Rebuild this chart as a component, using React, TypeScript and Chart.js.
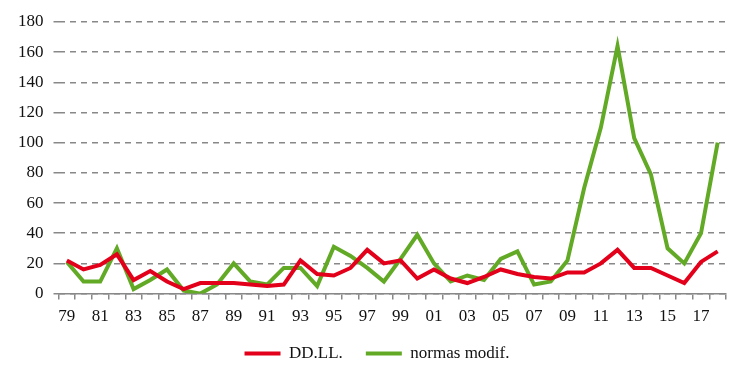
import React, { useEffect, useRef } from "react";
import { Chart, registerables } from "chart.js";

Chart.register(...registerables);

const years = [
  "79","80","81","82","83","84","85","86","87","88",
  "89","90","91","92","93","94","95","96","97","98",
  "99","00","01","02","03","04","05","06","07","08",
  "09","10","11","12","13","14","15","16","17","18",
];

const ddll = [
  22, 16, 19, 26, 9, 15, 8, 3, 7, 7,
  7, 6, 5, 6, 22, 13, 12, 17, 29, 20,
  22, 10, 16, 10, 7, 11, 16, 13, 11, 10,
  14, 14, 20, 29, 17, 17, 12, 7, 21, 28,
];

const normas = [
  21, 8, 8, 30, 3, 9, 16, 2, 0, 6,
  20, 8, 6, 17, 17, 5, 31, 25, 17, 8,
  23, 39, 20, 8, 12, 9, 23, 28, 6, 8,
  22, 70, 110, 164, 103, 79, 30, 20, 40, 100,
];

const yTicks = [0, 20, 40, 60, 80, 100, 120, 140, 160, 180];

const RED = "rgb(226,0,26)";
const GREEN = "rgb(98,170,38)";
const FONT = "'Liberation Serif', 'Times New Roman', serif";

export default function App() {
  const ref = useRef<HTMLCanvasElement | null>(null);

  useEffect(() => {
    document.body.style.margin = "0";
    const canvas = ref.current;
    if (!canvas) return;
    const chart = new Chart(canvas, {
      type: "line",
      data: {
        labels: years,
        datasets: [
          {
            label: "DD.LL.",
            data: ddll,
            borderColor: RED,
            backgroundColor: RED,
            borderWidth: 4,
            pointRadius: 0,
            tension: 0,
          },
          {
            label: "normas modif.",
            data: normas,
            borderColor: GREEN,
            backgroundColor: GREEN,
            borderWidth: 4,
            pointRadius: 0,
            tension: 0,
          },
        ],
      },
      options: {
        animation: false,
        responsive: false,
        layout: { padding: { left: 8, right: 18, top: 22, bottom: -4 } },
        plugins: {
          legend: {
            position: "bottom",
            labels: {
              boxWidth: 36,
              boxHeight: 4,
              padding: 23,
              color: "#111",
              font: { family: FONT, size: 17 },
              generateLabels: (c: any) =>
                c.data.datasets.map((ds: any, i: number) => ({
                  text: ds.label,
                  fillStyle: ds.borderColor,
                  strokeStyle: ds.borderColor,
                  lineWidth: 0,
                  hidden: false,
                  datasetIndex: i,
                  fontColor: "#111",
                })),
            },
          },
          tooltip: { enabled: false },
        },
        scales: {
          x: {
            offset: true,
            grid: {
              offset: true,
              drawOnChartArea: false,
              drawTicks: true,
              tickLength: 6,
              color: "#888",
              lineWidth: 1.5,
            },
            border: { display: true, color: "#888", width: 1.5 },
            ticks: {
              autoSkip: false,
              maxRotation: 0,
              color: "#111",
              font: { family: FONT, size: 17 },
              padding: 7,
              callback: (_v: any, i: number) => (i % 2 === 0 ? years[i] : ""),
            },
          },
          y: {
            min: 0,
            max: 180,
            afterBuildTicks: (axis: any) => {
              axis.ticks = yTicks.map((v) => ({ value: v }));
            },
            grid: {
              color: "#888",
              lineWidth: 1.5,
              drawTicks: true,
              tickLength: 5,
              tickBorderDash: [6, 5],
            },
            border: { display: false, dash: [6, 5] },
            ticks: {
              color: "#111",
              font: { family: FONT, size: 17 },
              padding: 10,
            },
          },
        },
      },
      plugins: [
        {
          id: "legendShift",
          afterLayout: (c: any) => {
            if (c.legend) {
              c.legend.top -= 12;
              c.legend.bottom -= 12;
              c.legend.left += 10;
              c.legend.right += 10;
            }
          },
        },
      ],
    });
    return () => chart.destroy();
  }, []);

  return <canvas ref={ref} width={744} height={380} style={{ display: "block" }} />;
}
